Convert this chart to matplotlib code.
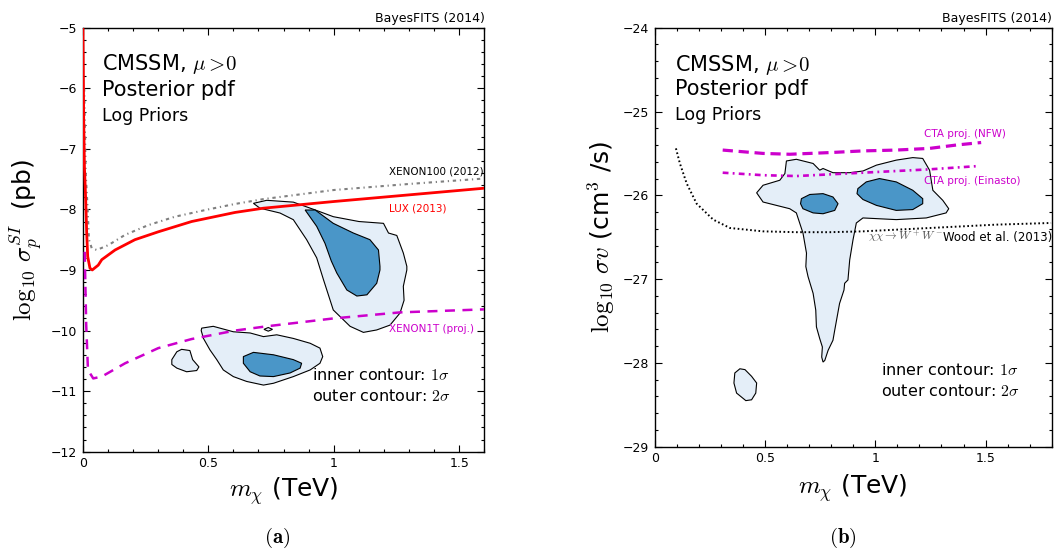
#!/usr/bin/env python3
"""Recreate the BayesFITS (2014) CMSSM direct/indirect detection panels."""

import matplotlib
matplotlib.use("Agg")
import matplotlib.pyplot as plt
from matplotlib.ticker import MultipleLocator, FixedLocator

plt.rcParams["mathtext.fontset"] = "cm"
plt.rcParams["font.family"] = "DejaVu Sans"

# ---------------------------------------------------------------------------
# Data
# ---------------------------------------------------------------------------

# panel (a): sigma_SI limits
lux_x = [0.001, 0.004, 0.007, 0.012, 0.016, 0.020, 0.029, 0.038, 0.062, 0.076,
         0.129, 0.208, 0.301, 0.434, 0.607, 0.72, 1.0, 1.3, 1.6]
lux_y = [-5.0, -6.5, -7.3, -7.84, -8.39, -8.78, -8.97, -9.0, -8.92, -8.83,
         -8.67, -8.50, -8.37, -8.20, -8.05, -7.98, -7.87, -7.76, -7.65]

x100_x = [0.006, 0.012, 0.020, 0.025, 0.036, 0.056, 0.102, 0.169, 0.261, 0.368,
          0.500, 0.607, 0.72, 1.0, 1.3, 1.6]
x100_y = [-6.0, -7.4, -8.01, -8.50, -8.64, -8.67, -8.59, -8.42, -8.26, -8.12,
          -8.00, -7.91, -7.83, -7.68, -7.58, -7.49]

x1t_x = [0.008, 0.010, 0.014, 0.021, 0.042, 0.076, 0.169, 0.301, 0.434, 0.607,
         0.733, 0.998, 1.264, 1.6]
x1t_y = [-8.7, -9.11, -9.9, -10.65, -10.79, -10.76, -10.54, -10.29, -10.14, -10.0,
         -9.93, -9.80, -9.70, -9.65]

# panel (a): posterior contours (2 sigma outer, 1 sigma inner)
a_out1_x = [0.680, 0.733, 0.839, 0.92, 0.998, 1.10, 1.198, 1.218, 1.251, 1.277,
            1.291, 1.291, 1.277, 1.280, 1.264, 1.224, 1.171, 1.118, 1.065, 0.998,
            0.959, 0.932, 0.892, 0.839, 0.786, 0.706]
a_out1_y = [-7.90, -7.85, -7.88, -8.00, -8.12, -8.20, -8.23, -8.39, -8.43, -8.72,
            -8.94, -9.0, -9.27, -9.50, -9.71, -9.91, -9.99, -10.03, -9.93, -9.66,
            -9.16, -8.80, -8.50, -8.17, -8.06, -7.98]
a_in1_x = [0.886, 0.926, 0.998, 1.078, 1.144, 1.178, 1.184, 1.184, 1.171, 1.132,
           1.092, 1.052, 1.012, 0.990, 0.965, 0.932]
a_in1_y = [-8.01, -8.01, -8.23, -8.39, -8.50, -8.67, -8.94, -9.0, -9.22, -9.41,
           -9.43, -9.33, -9.05, -8.85, -8.56, -8.28]
a_out2_x = [0.474, 0.520, 0.600, 0.667, 0.720, 0.773, 0.839, 0.906, 0.945, 0.956,
            0.945, 0.906, 0.839, 0.760, 0.720, 0.653, 0.600, 0.560, 0.534, 0.507,
            0.481, 0.472]
a_out2_y = [-9.96, -9.93, -10.02, -10.04, -10.10, -10.07, -10.13, -10.21, -10.29, -10.43,
            -10.54, -10.65, -10.76, -10.87, -10.90, -10.84, -10.76, -10.65, -10.48, -10.32,
            -10.13, -10.0]
a_in2_x = [0.640, 0.680, 0.760, 0.839, 0.872, 0.866, 0.826, 0.760, 0.706, 0.667, 0.640]
a_in2_y = [-10.43, -10.36, -10.40, -10.48, -10.54, -10.62, -10.70, -10.76, -10.75,
           -10.68, -10.54]
a_out3_x = [0.355, 0.375, 0.394, 0.427, 0.438, 0.463, 0.454, 0.414, 0.375, 0.355]
a_out3_y = [-10.48, -10.35, -10.31, -10.33, -10.48, -10.60, -10.66, -10.68, -10.62, -10.56]
a_out4_x = [0.722, 0.739, 0.756, 0.739]
a_out4_y = [-9.98, -9.95, -9.98, -10.01]

# panel (b): sigma v limits
nfw_x = [0.308, 0.491, 0.612, 0.793, 0.944, 1.095, 1.246, 1.367, 1.480]
nfw_y = [-25.46, -25.50, -25.51, -25.49, -25.47, -25.46, -25.44, -25.40, -25.37]
ein_x = [0.308, 0.491, 0.642, 0.793, 0.944, 1.095, 1.246, 1.472]
ein_y = [-25.73, -25.76, -25.77, -25.75, -25.73, -25.71, -25.69, -25.65]
wood_x = [0.096, 0.114, 0.145, 0.190, 0.265, 0.341, 0.491, 0.642, 0.793, 0.944,
          1.246, 1.548, 1.797]
wood_y = [-25.44, -25.62, -25.86, -26.10, -26.29, -26.39, -26.43, -26.44, -26.44, -26.43,
          -26.39, -26.35, -26.33]

# panel (b): posterior contours
b_out1_x = [0.597, 0.642, 0.718, 0.748, 0.763, 0.808, 0.884, 0.944, 1.005, 1.095,
            1.170, 1.215, 1.246, 1.261, 1.306, 1.333, 1.321, 1.231, 1.095, 0.944,
            0.914, 0.899, 0.884, 0.876, 0.861, 0.858, 0.838, 0.816, 0.808, 0.786,
            0.771, 0.763, 0.757, 0.760, 0.748, 0.733, 0.730, 0.718, 0.695, 0.685,
            0.688, 0.672, 0.642, 0.612, 0.491, 0.462, 0.491, 0.567, 0.590]
b_out1_y = [-25.59, -25.57, -25.62, -25.70, -25.68, -25.73, -25.73, -25.71, -25.64, -25.58,
            -25.55, -25.56, -25.70, -25.94, -26.06, -26.16, -26.21, -26.27, -26.29, -26.27,
            -26.33, -26.53, -26.77, -27.01, -27.05, -27.13, -27.29, -27.61, -27.73, -27.85,
            -27.97, -27.99, -27.93, -27.81, -27.71, -27.57, -27.37, -27.17, -26.97, -26.85,
            -26.69, -26.45, -26.21, -26.16, -26.08, -25.97, -25.88, -25.82, -25.74]
b_in1_x = [0.665, 0.703, 0.763, 0.808, 0.831, 0.816, 0.763, 0.718, 0.672, 0.661]
b_in1_y = [-26.04, -25.99, -25.98, -26.02, -26.10, -26.18, -26.22, -26.21, -26.16, -26.10]
b_in2_x = [0.921, 0.959, 1.019, 1.095, 1.170, 1.215, 1.215, 1.170, 1.095, 1.005,
           0.944, 0.917]
b_in2_y = [-25.92, -25.84, -25.80, -25.84, -25.94, -26.04, -26.10, -26.17, -26.18, -26.12,
           -26.05, -25.98]
b_out2_x = [0.386, 0.363, 0.359, 0.371, 0.413, 0.439, 0.458, 0.462, 0.439, 0.409]
b_out2_y = [-28.07, -28.12, -28.24, -28.36, -28.45, -28.44, -28.36, -28.24, -28.16, -28.08]

x_ticks = [0, 0.5, 1, 1.5]
x_ticklabels = ["0", "0.5", "1", "1.5"]
ya_ticks = [-12, -11, -10, -9, -8, -7, -6, -5]
yb_ticks = [-29, -28, -27, -26, -25, -24]

LIGHT = "#e4eef8"
DARK = "#4a96c8"
MAGENTA = "#cc00cc"


def style_axes(ax, yticks):
    ax.xaxis.set_major_locator(FixedLocator(x_ticks))
    ax.set_xticklabels(x_ticklabels)
    ax.yaxis.set_major_locator(FixedLocator(yticks))
    ax.set_yticklabels([f"\u2212{abs(v)}" for v in yticks])
    ax.xaxis.set_minor_locator(MultipleLocator(0.1))
    ax.yaxis.set_minor_locator(MultipleLocator(0.2))
    ax.tick_params(which="both", direction="in", top=True, right=True, labelsize=9,
                   width=0.8)
    ax.tick_params(which="major", length=5, pad=4)
    ax.tick_params(which="minor", length=2.5)
    for s in ax.spines.values():
        s.set_linewidth(1.0)


def header(ax, x, ys):
    ax.text(x, ys[0], r"CMSSM, $\mu>\!0$", transform=ax.transAxes, fontsize=15,
            va="baseline")
    ax.text(x, ys[1], "Posterior pdf", transform=ax.transAxes, fontsize=15,
            va="baseline")
    ax.text(x, ys[2], "Log Priors", transform=ax.transAxes, fontsize=12.5,
            va="baseline")
    ax.text(1.0, 1.014, "BayesFITS (2014)", transform=ax.transAxes, fontsize=9,
            ha="right", va="baseline")


def blob(ax, xs, ys, color):
    ax.fill(xs, ys, facecolor=color, edgecolor="black", linewidth=0.8, zorder=2)


fig = plt.figure(figsize=(10.6, 5.5), dpi=100)
ax1 = fig.add_axes([0.078, 0.1787, 0.379, 0.771])
ax2 = fig.add_axes([0.6177, 0.1878, 0.3745, 0.7618])

# ---------------- panel (a) ----------------
for xs, ys in [(a_out1_x, a_out1_y), (a_out2_x, a_out2_y), (a_out3_x, a_out3_y),
               (a_out4_x, a_out4_y)]:
    blob(ax1, xs, ys, LIGHT)
blob(ax1, a_in1_x, a_in1_y, DARK)
blob(ax1, a_in2_x, a_in2_y, DARK)

ax1.plot(x100_x, x100_y, color="gray", lw=1.5, ls=(0, (1.6, 1.8, 0.6, 1.8)), zorder=3)
ax1.plot(x1t_x, x1t_y, color=MAGENTA, lw=1.8, ls=(0, (4, 3)), zorder=3)
ax1.plot(lux_x, lux_y, color="red", lw=2.0, zorder=4)

ax1.text(1.22, -7.43, "XENON100 (2012)", fontsize=7.5, color="black", va="baseline")
ax1.text(1.22, -8.03, "LUX (2013)", fontsize=7.5, color="red", va="baseline")
ax1.text(1.22, -10.02, "XENON1T (proj.)", fontsize=7.5, color=MAGENTA, va="baseline")
ax1.text(0.912, -10.81, r"inner contour: $1\sigma$", fontsize=11.5, va="baseline")
ax1.text(0.912, -11.155, r"outer contour: $2\sigma$", fontsize=11.5, va="baseline")

ax1.set_xlim(0, 1.6)
ax1.set_ylim(-12, -5)
style_axes(ax1, ya_ticks)
header(ax1, 0.047, [0.900, 0.839, 0.779])
ax1.set_xlabel(r"$m_\chi$ (TeV)", fontsize=18)
ax1.xaxis.set_label_coords(0.5, -0.055)
ax1.set_ylabel(r"$\log_{10}\,\sigma_p^{SI}$  (pb)", fontsize=18)
ax1.yaxis.set_label_coords(-0.094, 0.5)

# ---------------- panel (b) ----------------
blob(ax2, b_out1_x, b_out1_y, LIGHT)
blob(ax2, b_out2_x, b_out2_y, LIGHT)
blob(ax2, b_in1_x, b_in1_y, DARK)
blob(ax2, b_in2_x, b_in2_y, DARK)

ax2.plot(nfw_x, nfw_y, color=MAGENTA, lw=2.3, ls=(0, (3.2, 1.8)), zorder=3)
ax2.plot(ein_x, ein_y, color=MAGENTA, lw=1.9, ls=(0, (2.2, 1.6, 0.7, 1.6)), zorder=3)
ax2.plot(wood_x, wood_y, color="black", lw=1.4, ls=(0, (0.85, 1.3)), zorder=3)

ax2.text(1.223, -25.30, "CTA proj. (NFW)", fontsize=7.5, color=MAGENTA, va="baseline")
ax2.text(1.223, -25.865, "CTA proj. (Einasto)", fontsize=7.5, color=MAGENTA,
         va="baseline")
ax2.text(0.965, -26.545, r"$\chi\chi \to W^+W^-$", fontsize=8.5, color="#555555",
         va="baseline")
ax2.text(1.309, -26.55, "Wood et al. (2013)", fontsize=8.5, va="baseline")
ax2.text(1.027, -28.14, r"inner contour: $1\sigma$", fontsize=11.5, va="baseline")
ax2.text(1.027, -28.39, r"outer contour: $2\sigma$", fontsize=11.5, va="baseline")

ax2.set_xlim(0, 1.8)
ax2.set_ylim(-29, -24)
style_axes(ax2, yb_ticks)
header(ax2, 0.051, [0.897, 0.839, 0.780])
ax2.set_xlabel(r"$m_\chi$ (TeV)", fontsize=18)
ax2.xaxis.set_label_coords(0.5, -0.06)
ax2.set_ylabel(r"$\log_{10}\,\sigma v$ (cm$^3$ /s)", fontsize=18)
ax2.yaxis.set_label_coords(-0.095, 0.5)

fig.text(0.261, 0.022, r"$\mathbf{(a)}$", fontsize=15, ha="center", va="center")
fig.text(0.795, 0.022, r"$\mathbf{(b)}$", fontsize=15, ha="center", va="center")

fig.savefig("out.png", dpi=100)
